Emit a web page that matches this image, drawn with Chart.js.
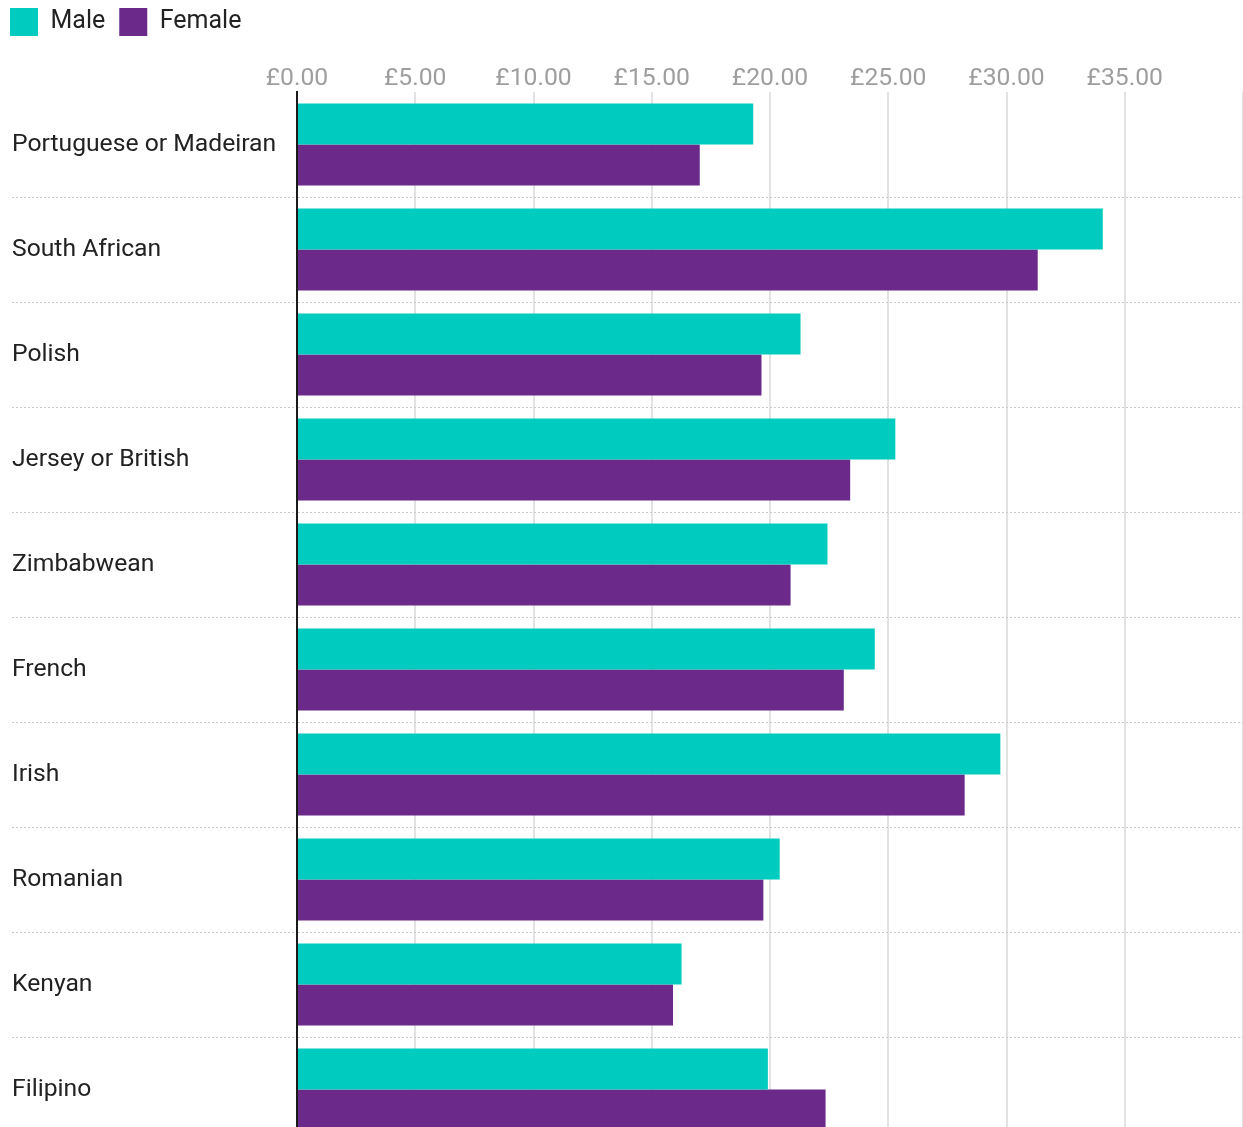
<!DOCTYPE html>
<html>
<head>
<meta charset="utf-8">
<script src="https://cdn.jsdelivr.net/npm/chart.js@4"></script>
<style>
  html, body { margin: 0; padding: 0; background: #fff; overflow: hidden; }
  #frame { width: 1243px; height: 1127px; overflow: hidden; }
  canvas { display: block; }
</style>
</head>
<body>
<div id="frame"><canvas id="chart" width="1243" height="1142"></canvas></div>
<script>
// hourly pay by nationality, split by sex
const nationalities = [
  'Portuguese or Madeiran', 'South African', 'Polish', 'Jersey or British', 'Zimbabwean',
  'French', 'Irish', 'Romanian', 'Kenyan', 'Filipino'
];
const malePay   = [19.29, 34.07, 21.29, 25.30, 22.43, 24.43, 29.74, 20.41, 16.26, 19.91];
const femalePay = [17.03, 31.32, 19.64, 23.39, 20.87, 23.12, 28.23, 19.72, 15.90, 22.35];
const payTicks  = [0, 5, 10, 15, 20, 25, 30, 35];

const TEAL = '#00cbbf';
const PURPLE = '#6b2989';
const FONT = 'Roboto, "Noto Sans", sans-serif';
const LEGEND_PAD = 14;

// legend sits flush with the page corner, not the label column
const legendNudge = {
  id: 'legendNudge',
  afterLayout(chart) {
    const lg = chart.legend;
    if (!lg) return;
    lg.left = 10 - LEGEND_PAD;
    lg.top = 8 - LEGEND_PAD;
  }
};

new Chart(document.getElementById('chart'), {
  type: 'bar',
  data: {
    labels: nationalities,
    datasets: [
      { label: 'Male', data: malePay, backgroundColor: TEAL },
      { label: 'Female', data: femalePay, backgroundColor: PURPLE }
    ]
  },
  options: {
    indexAxis: 'y',
    responsive: false,
    animation: false,
    layout: { padding: { left: 12, right: 0, top: 0, bottom: 0 } },
    datasets: {
      bar: { categoryPercentage: 0.78, barPercentage: 1.0 }
    },
    plugins: {
      tooltip: { enabled: false },
      legend: {
        position: 'top',
        align: 'start',
        labels: {
          boxWidth: 28,
          boxHeight: 28,
          padding: LEGEND_PAD,
          color: '#222',
          font: { family: FONT, size: 25 }
        }
      }
    },
    scales: {
      x: {
        position: 'top',
        min: 0,
        max: 40,
        afterBuildTicks(scale) {
          scale.ticks = payTicks.concat([40]).map(v => ({ value: v }));
        },
        // plot starts 92px down the page
        afterFit(scale) {
          const lh = scale.chart.legend ? scale.chart.legend.height : 0;
          scale.height = 92 - lh;
        },
        border: { display: false },
        grid: { color: '#e2e2e2', lineWidth: 2, drawTicks: false },
        ticks: {
          padding: -2,
          color: '#9e9e9e',
          font: { family: FONT, size: 24.7 },
          callback: v => (payTicks.includes(v) ? '£' + v.toFixed(2) : '')
        }
      },
      y: {
        // labels sit inside their rows, so no extra room above or below the plot
        afterFit(scale) {
          scale.width = 285;
          scale.paddingTop = 0;
          scale.paddingBottom = 0;
        },
        border: { color: '#1a1a1a', width: 2, dash: [2, 2] },
        grid: {
          offset: true,
          color: ctx => (ctx.index === 0 ? 'rgba(0,0,0,0)' : '#cbcbcb'),
          lineWidth: 1,
          tickBorderDash: [2, 2],
          tickLength: 285
        },
        ticks: {
          crossAlign: 'far',
          color: '#222',
          font: { family: FONT, size: 24.7 }
        }
      }
    }
  },
  plugins: [legendNudge]
});
</script>
</body>
</html>
